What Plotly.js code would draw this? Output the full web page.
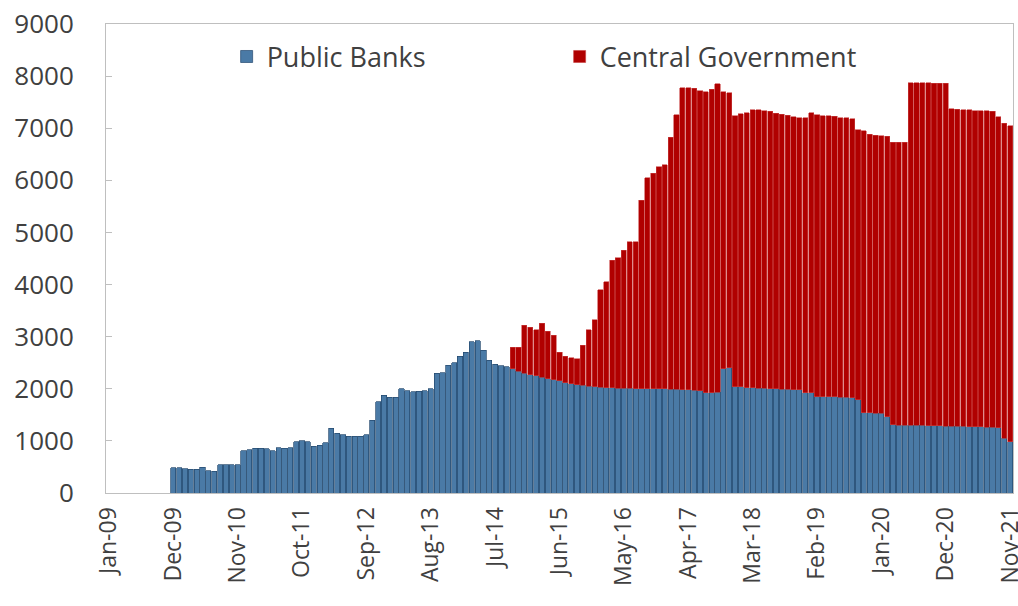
<!DOCTYPE html>
<html>
<head>
<meta charset="utf-8">
<script src="https://cdn.plot.ly/plotly-3.0.1.min.js"></script>
<style>html,body{margin:0;padding:0;background:#fff;}#chart{width:1018px;height:606px;}</style>
</head>
<body>
<div id="chart"></div>
<script>
// Category axis: months Jan-09 .. Nov-21
var monthNames = ['Jan','Feb','Mar','Apr','May','Jun','Jul','Aug','Sep','Oct','Nov','Dec'];
var months = [];
for (var y = 2009; y <= 2021; y++) {
  for (var m = 0; m < 12; m++) {
    if (y === 2021 && m > 10) break;
    months.push(monthNames[m] + '-' + String(y).slice(2));
  }
}
var tickLabels = ['Jan-09','Dec-09','Nov-10','Oct-11','Sep-12','Aug-13','Jul-14','Jun-15','May-16','Apr-17','Mar-18','Feb-19','Jan-20','Dec-20','Nov-21'];

// Public Banks, from Dec-09
var publicBanksStart = 'Dec-09';
var publicBanks = [
  480, 480, 470, 460, 460, 490, 430, 420, 540, 540, 540, 540,
  810, 830, 860, 860, 850, 810, 870, 860, 870, 980, 1000, 980,
  900, 920, 960, 1240, 1150, 1120, 1090, 1090, 1090, 1120, 1400, 1750,
  1880, 1840, 1840, 2000, 1960, 1940, 1950, 1960, 2000, 2300, 2310, 2450,
  2500, 2620, 2700, 2900, 2920, 2740, 2550, 2470, 2440, 2420, 2380, 2340,
  2300, 2270, 2250, 2220, 2190, 2170, 2150, 2120, 2100, 2080, 2070, 2050,
  2040, 2030, 2020, 2020, 2010, 2010, 2010, 2000, 2000, 2000, 2000, 2000,
  2000, 1990, 1990, 1980, 1980, 1970, 1960, 1920, 1920, 1930, 2380, 2400,
  2040, 2040, 2020, 2020, 2010, 2010, 2000, 2000, 1990, 1990, 1980, 1980,
  1920, 1920, 1850, 1850, 1850, 1850, 1840, 1840, 1830, 1790, 1540, 1540,
  1530, 1530, 1460, 1310, 1300, 1300, 1300, 1300, 1300, 1290, 1290, 1290,
  1280, 1280, 1280, 1280, 1270, 1270, 1270, 1260, 1260, 1250, 1050, 980
];

// Central Government, from Oct-14
var centralGovStart = 'Oct-14';
var centralGov = [
  420, 460, 920, 910, 880, 1040, 910, 860, 550, 500, 500, 500,
  770, 1080, 1280, 1870, 2030, 2450, 2500, 2650, 2810, 2820, 3620, 4050,
  4140, 4260, 4300, 4840, 5270, 5800, 5800, 5800, 5760, 5780, 5830, 5920,
  5320, 5280, 5200, 5240, 5280, 5330, 5340, 5330, 5330, 5290, 5280, 5260,
  5240, 5220, 5280, 5380, 5410, 5390, 5390, 5380, 5360, 5360, 5350, 5180,
  5410, 5340, 5340, 5330, 5390, 5420, 5430, 5430, 6570, 6570, 6570, 6580,
  6570, 6570, 6580, 6090, 6080, 6070, 6080, 6070, 6070, 6080, 6070, 5970,
  6050, 6070
];

var pbX = months.slice(months.indexOf(publicBanksStart), months.indexOf(publicBanksStart) + publicBanks.length);
var cgX = months.slice(months.indexOf(centralGovStart), months.indexOf(centralGovStart) + centralGov.length);

var font = 'Open Sans, Noto Sans, sans-serif';
var data = [
  {type:'bar', name:'Public Banks', x:pbX, y:publicBanks,
   marker:{color:'#4a7aa6', line:{color:'#24486e', width:0.7}}},
  {type:'bar', name:'Central Government', x:cgX, y:centralGov,
   marker:{color:'#b00000', line:{color:'#c84040', width:0.6}}}
];
var layout = {
  width:1018, height:606,
  margin:{l:106, r:5, t:24, b:113},
  barmode:'stack', bargap:0.12,
  paper_bgcolor:'#fff', plot_bgcolor:'#fff',
  showlegend:true,
  legend:{orientation:'h', x:0.133, y:0.982, xanchor:'left', yanchor:'top',
          font:{family:font, size:27, color:'#404040'}, bgcolor:'rgba(0,0,0,0)',
          traceorder:'normal', entrywidth:288},
  xaxis:{type:'category', categoryorder:'array', categoryarray:months,
         range:[-0.5, months.length - 0.5],
         tickmode:'array', tickvals:tickLabels, ticktext:tickLabels,
         tickangle:-90, tickfont:{family:font, size:23, color:'#404040'},
         showgrid:false, zeroline:false, showline:true, linecolor:'#bfbfbf', linewidth:1,
         mirror:true, ticks:'', ticklabelstandoff:4},
  yaxis:{range:[0, 9000], dtick:1000, tick0:0,
         tickfont:{family:font, size:26, color:'#404040'},
         showgrid:false, zeroline:false, showline:true, linecolor:'#bfbfbf', linewidth:1,
         mirror:true, ticks:'inside', ticklen:6, tickcolor:'#bfbfbf', ticklabelstandoff:26}
};
Plotly.newPlot('chart', data, layout, {displayModeBar:false, staticPlot:true});
</script>
</body>
</html>
